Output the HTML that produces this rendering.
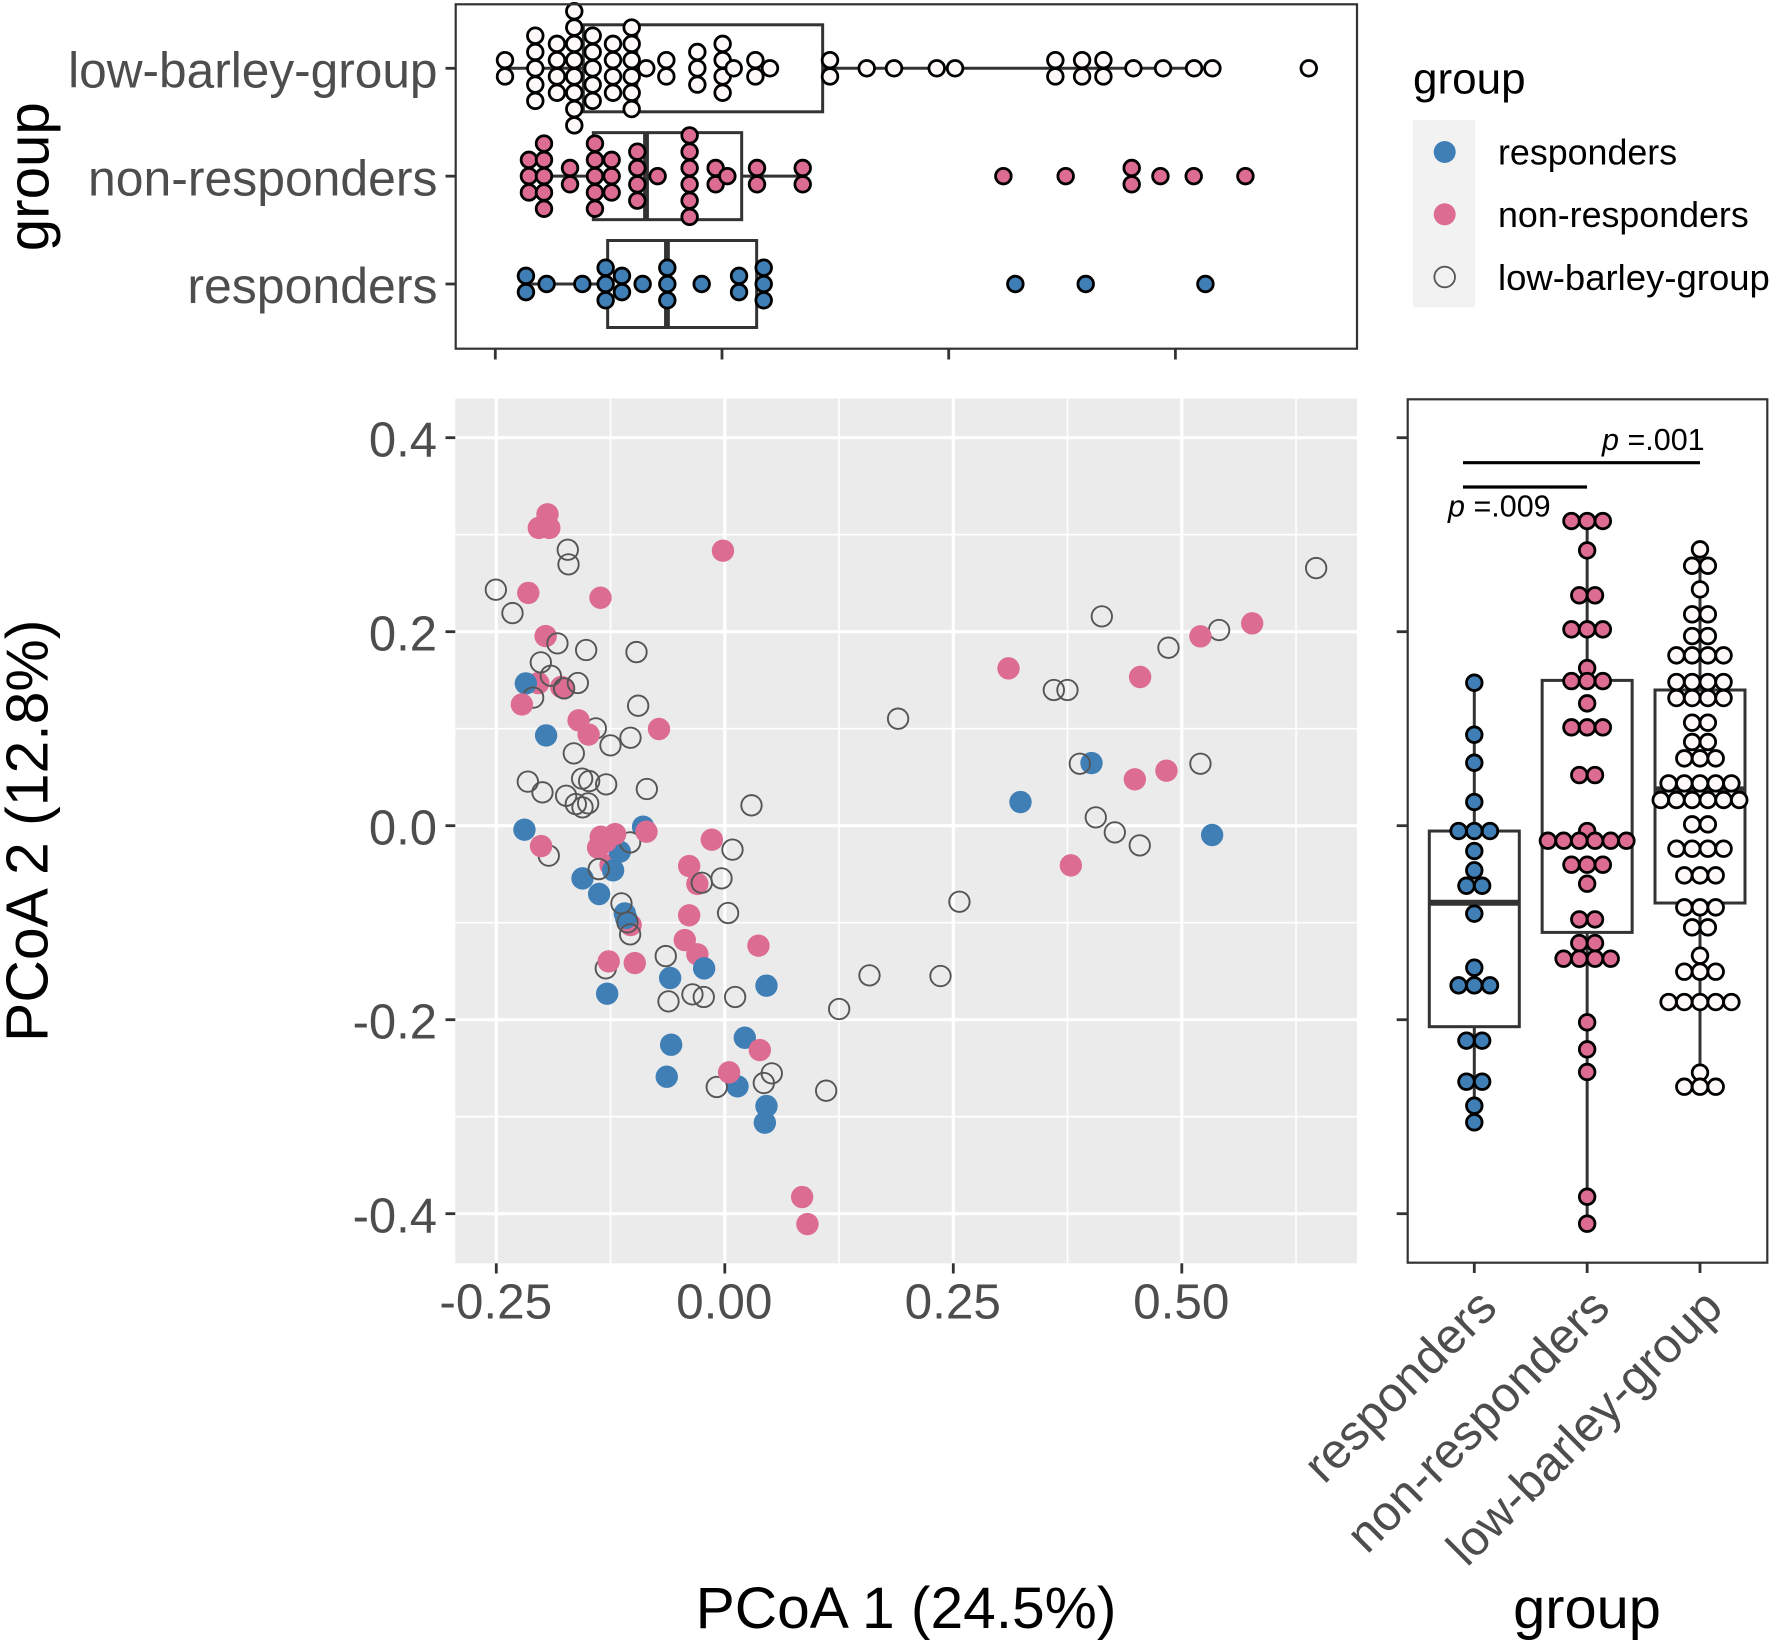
<!DOCTYPE html>
<html>
<head>
<meta charset="utf-8">
<title>PCoA plot with marginal dot-box plots</title>
<style>
html,body{margin:0;padding:0;background:#fff;}
svg{display:block;}
text{font-family:"Liberation Sans",Arial,sans-serif;}
</style>
</head>
<body>
<svg id="chart" xmlns="http://www.w3.org/2000/svg" width="1772" height="1645" viewBox="0 0 1772 1645">
  <g>
    <text x="1413" y="93.5" font-size="44" fill="#000">group</text>
    <rect x="1412.7" y="120" width="62.6" height="187.3" fill="#F2F2F2"/>
    <circle cx="1444.7" cy="152" r="11" fill="#3F7FB6"/>
    <circle cx="1444.7" cy="214.3" r="11" fill="#DD6C93"/>
    <circle cx="1444.7" cy="277" r="10.3" fill="none" stroke="#555" stroke-width="1.8"/>
    <text x="1498" y="164.5" font-size="35.8" fill="#000">responders</text>
    <text x="1498" y="226.8" font-size="35.8" fill="#000">non-responders</text>
    <text x="1498" y="290" font-size="36.5" fill="#000">low-barley-group</text>
  </g>
  <text transform="translate(48.3,176.7) rotate(-90)" text-anchor="middle" font-size="58.3" fill="#000">group</text>
  <text transform="translate(47.3,830.8) rotate(-90)" text-anchor="middle" font-size="58.9" fill="#000">PCoA 2 (12.8%)</text>
  <text x="906" y="1628" text-anchor="middle" font-size="58.7" fill="#000">PCoA 1 (24.5%)</text>
  <text x="1587" y="1628" text-anchor="middle" font-size="57.8" fill="#000">group</text>
  <g id="mainLayer"></g>
  <g id="topLayer"></g>
  <g id="rightLayer"></g>
</svg>
<script>
/* ---------- axis tick values ---------- */
var xMajorTicks = [-0.25, 0, 0.25, 0.5];
var xMajorTickLabels = ["-0.25", "0.00", "0.25", "0.50"];
var xMinorGrid = [-0.125, 0.125, 0.375, 0.625];
var yMajorTicks = [0.4, 0.2, 0, -0.2, -0.4];
var yMajorTickLabels = ["0.4", "0.2", "0.0", "-0.2", "-0.4"];
var yMinorGrid = [0.3, 0.1, -0.1, -0.3];
var groupNames = ["responders", "non-responders", "low-barley-group"];

/* ---------- scatter data ---------- */
var nonRespondersBackX = [-0.194,-0.2035,-0.192,-0.002,-0.215,-0.136,-0.196,-0.204,-0.179,-0.176,-0.125,-0.039,-0.03,-0.0438,-0.03,-0.1386,-0.103,0.4544,0.3104,-0.1058];
var nonRespondersBackY = [0.321,0.307,0.307,0.2835,0.24,0.235,0.1955,0.147,0.143,0.142,-0.0405,-0.0416,-0.06,-0.1179,-0.1326,-0.0227,-0.1024,0.1533,0.1622,-0.0997];
var respondersX = [-0.2177,-0.1955,-0.2192,-0.0894,-0.1149,-0.1222,-0.1557,-0.1375,-0.1094,-0.108,-0.0226,-0.0598,0.0456,-0.1287,0.0219,-0.0587,-0.0635,0.0139,0.0456,0.0438,0.4012,0.3235,0.5332];
var respondersY = [0.1467,0.0931,-0.0041,-0.001,-0.0268,-0.046,-0.0543,-0.0704,-0.0904,-0.095,-0.1471,-0.157,-0.1649,-0.1732,-0.2186,-0.2258,-0.2588,-0.2687,-0.289,-0.3062,0.0646,0.0244,-0.0096];
var lowBarleyX = [-0.1718,-0.171,-0.2505,-0.2323,-0.1831,-0.1517,-0.0966,-0.2013,-0.1904,-0.1608,-0.1758,-0.2097,-0.0948,-0.1411,-0.1032,-0.1251,-0.1652,-0.2155,-0.1995,-0.1561,-0.1484,-0.1298,-0.0853,-0.1736,-0.163,-0.1495,-0.1557,0.0292,0.1896,-0.1926,-0.1036,0.0084,-0.1379,-0.0252,-0.0036,-0.1131,-0.1065,-0.1036,0.0036,0.2567,-0.0646,-0.1302,0.1583,0.236,-0.0354,-0.023,-0.0616,0.0113,0.1251,0.0514,0.0427,-0.0088,0.1109,0.647,0.4125,0.5408,0.4854,0.36,0.3749,0.3884,0.5204,0.4059,0.4267,0.454];
var lowBarleyY = [0.2845,0.2694,0.2433,0.2192,0.188,0.1811,0.179,0.1684,0.1546,0.1471,0.1416,0.132,0.1237,0.1003,0.0907,0.0828,0.0746,0.0454,0.0344,0.0485,0.046,0.0426,0.0378,0.0309,0.0223,0.023,0.0189,0.021,0.1103,-0.0309,-0.0172,-0.0247,-0.0447,-0.0588,-0.0543,-0.0801,-0.0997,-0.112,-0.09,-0.0784,-0.1344,-0.1471,-0.1543,-0.155,-0.1739,-0.1766,-0.1811,-0.1766,-0.189,-0.2553,-0.2653,-0.2694,-0.2732,0.2656,0.2158,0.2017,0.1835,0.1399,0.1399,0.0639,0.0639,0.0086,-0.0069,-0.0203];
var nonRespondersFrontX = [-0.222,-0.16,-0.149,-0.072,-0.201,-0.12,-0.0857,-0.1357,-0.13,-0.0142,0.0368,-0.127,-0.0985,-0.039,0.0383,0.0047,0.0846,0.0904,0.5204,0.577,0.4486,0.4832,0.3786];
var nonRespondersFrontY = [0.125,0.1086,0.094,0.0997,-0.021,-0.0086,-0.0062,-0.0113,-0.016,-0.0144,-0.1237,-0.1399,-0.1416,-0.0924,-0.2313,-0.2543,-0.3828,-0.4107,0.1952,0.2086,0.0478,0.0567,-0.0409];

/* ---------- top dot plot: bin value and stack count ---------- */
var topLowBarleyValues = [-0.2393,-0.2059,-0.182,-0.1629,-0.1426,-0.1202,-0.0996,-0.0835,-0.0614,-0.0272,0.0007,0.0129,0.0368,0.0529,0.1191,0.1596,0.1897,0.2368,0.257,0.3676,0.3971,0.4206,0.4537,0.4864,0.5206,0.5408,0.6471];
var topLowBarleyCounts = [2,5,4,8,5,4,6,1,2,3,4,1,2,1,2,1,1,1,1,2,2,2,1,1,1,1,1];
var topNonRespValues = [-0.2129,-0.1963,-0.1676,-0.1401,-0.1217,-0.0934,-0.071,-0.0357,-0.007,0.0059,0.0386,0.089,0.3103,0.379,0.4518,0.4835,0.5202,0.5772];
var topNonRespCounts = [3,5,2,5,3,4,1,6,2,1,2,2,1,1,2,1,1,1];
var topRespValues = [-0.2162,-0.1934,-0.154,-0.1283,-0.1103,-0.0875,-0.0603,-0.0224,0.0188,0.046,0.3235,0.4011,0.5331];
var topRespCounts = [2,1,1,3,2,1,3,1,2,3,1,1,1];

/* top box stats: low whisker, q1, median, q3, high whisker */
var topLowBarleyBox = [-0.2393,-0.1529,-0.0955,0.111,0.5408];
var topNonRespBox = [-0.2129,-0.1419,-0.0838,0.0217,0.089];
var topRespBox = [-0.2162,-0.1261,-0.0607,0.0382,0.046];

/* ---------- right dot plot: bin value and row count ---------- */
var rightRespValues = [0.1474,0.0938,0.0649,0.0244,-0.0055,-0.0261,-0.046,-0.0619,-0.0907,-0.1464,-0.1646,-0.2216,-0.2639,-0.2887,-0.3058];
var rightRespCounts = [1,1,1,1,3,1,1,2,1,1,3,2,2,1,1];
var rightNonRespValues = [0.3141,0.2838,0.2375,0.2024,0.1625,0.1491,0.1261,0.1014,0.0522,-0.0055,-0.0155,-0.0402,-0.0598,-0.0966,-0.121,-0.1371,-0.2027,-0.2306,-0.2539,-0.3825,-0.4103];
var rightNonRespCounts = [3,1,2,3,1,3,1,3,2,1,6,3,1,2,2,4,1,1,1,1,1];
var rightLowBarleyValues = [0.2849,0.268,0.2436,0.2179,0.1955,0.1756,0.1481,0.1316,0.1062,0.0863,0.0694,0.0436,0.0265,0.0014,-0.0237,-0.0512,-0.0842,-0.1048,-0.134,-0.1505,-0.1818,-0.2546,-0.2691];
var rightLowBarleyCounts = [1,2,1,2,2,4,4,4,2,2,3,5,6,2,4,3,3,2,1,3,5,1,3];

var rightRespBox = [-0.3058,-0.2072,-0.0794,-0.0055,0.1474];
var rightNonRespBox = [-0.4103,-0.11,-0.0155,0.1498,0.3141];
var rightLowBarleyBox = [-0.2691,-0.0797,0.0375,0.1399,0.2849];

/* ---------- axis functions ---------- */
function mainX(v){ return 724.8 + v * 914; }
function mainY(v){ return 825.7 - v * 970; }
function topX(v){ return 722 + v * 906.8; }
function topRow(i){ return 284 - i * 107.85; }
function rightCol(i){ return 1474.3 + i * 112.85; }

var BLUE = "#3F7FB6", PINK = "#DD6C93", CREAM = "#FDF9F8", DARK = "#333333", TXT = "#4D4D4D";
var NS = "http://www.w3.org/2000/svg";

function make(parent, tag, attrs, name) {
  var el = document.createElementNS(NS, tag);
  for (var k in attrs) { el.setAttribute(k, attrs[k]); }
  
  
  parent.appendChild(el);
  return el;
}
function line(parent, x1, y1, x2, y2, stroke, w, name) {
  return make(parent, "line", {x1:x1, y1:y1, x2:x2, y2:y2, stroke:stroke, "stroke-width":w}, name);
}
function label(parent, x, y, str, size, fill, anchor, name) {
  var t = make(parent, "text", {x:x, y:y, "font-size":size, fill:fill, "text-anchor":anchor}, name);
  t.textContent = str;
  return t;
}

/* ---------- main scatter panel ---------- */
var main = document.getElementById("mainLayer");
make(main, "rect", {x:455.3, y:398.5, width:901.7, height:864.8, fill:"#EBEBEB"}, "scatter-panel-background");
yMinorGrid.forEach(function(v){ line(main, 455.3, mainY(v), 1357, mainY(v), "#fff", 1.6, "minor-gridline-y"); });
xMinorGrid.forEach(function(v){ line(main, mainX(v), 398.5, mainX(v), 1263.3, "#fff", 1.6, "minor-gridline-x"); });
yMajorTicks.forEach(function(v){ line(main, 455.3, mainY(v), 1357, mainY(v), "#fff", 3.2, "major-gridline-y"); });
xMajorTicks.forEach(function(v){ line(main, mainX(v), 398.5, mainX(v), 1263.3, "#fff", 3.2, "major-gridline-x"); });

function scatter(xs, ys, fill, stroke, name) {
  xs.forEach(function(x, i){
    var r = stroke ? 10.2 : 11.2;
    make(main, "circle", {cx:mainX(x), cy:mainY(ys[i]), r:r, fill:fill, stroke:stroke || "none", "stroke-width":stroke ? 1.9 : 0}, name);
  });
}
scatter(nonRespondersBackX, nonRespondersBackY, PINK, null, "scatter-point-non-responders");
scatter(respondersX, respondersY, BLUE, null, "scatter-point-responders");
scatter(lowBarleyX, lowBarleyY, "none", "#555", "scatter-point-low-barley-group");
scatter(nonRespondersFrontX, nonRespondersFrontY, PINK, null, "scatter-point-non-responders");

yMajorTicks.forEach(function(v, i){
  line(main, 445.5, mainY(v), 455.3, mainY(v), DARK, 2.8, "main-y-tick");
  label(main, 437, mainY(v) + 19, yMajorTickLabels[i], 49, TXT, "end", "main-y-tick-label");
});
xMajorTicks.forEach(function(v, i){
  line(main, mainX(v), 1263.3, mainX(v), 1273.5, DARK, 2.8, "main-x-tick");
  label(main, mainX(v) - 0.5, 1318.5, xMajorTickLabels[i], 49.5, TXT, "middle", "main-x-tick-label");
});

/* ---------- shared dot drawing ---------- */
function dot(parent, cx, cy, fill, name) {
  make(parent, "circle", {cx:cx, cy:cy, r:7.8, fill:fill, stroke:"#000", "stroke-width":2.8}, name);
}

/* ---------- top panel ---------- */
var topG = document.getElementById("topLayer");
function topBox(stats, row, name) {
  var cy = topRow(row), h = 43.5;
  line(topG, topX(stats[0]), cy, topX(stats[1]), cy, DARK, 3, name + "-whisker-low");
  line(topG, topX(stats[3]), cy, topX(stats[4]), cy, DARK, 3, name + "-whisker-high");
  make(topG, "rect", {x:topX(stats[1]), y:cy - h, width:topX(stats[3]) - topX(stats[1]), height:2 * h, fill:"none", stroke:DARK, "stroke-width":3}, name + "-box");
  line(topG, topX(stats[2]), cy - h, topX(stats[2]), cy + h, DARK, 5.8, name + "-median");
}
function topDots(values, counts, row, fill, name) {
  var cy = topRow(row), step = 16.3;
  values.forEach(function(v, i){
    for (var k = 0; k < counts[i]; k++) {
      dot(topG, topX(v), cy + (k - (counts[i] - 1) / 2) * step, fill, name);
    }
  });
}
topBox(topRespBox, 0, "top-responders");
topBox(topNonRespBox, 1, "top-non-responders");
topBox(topLowBarleyBox, 2, "top-low-barley-group");
topDots(topRespValues, topRespCounts, 0, BLUE, "top-dot-responders");
topDots(topNonRespValues, topNonRespCounts, 1, PINK, "top-dot-non-responders");
topDots(topLowBarleyValues, topLowBarleyCounts, 2, CREAM, "top-dot-low-barley-group");
make(topG, "rect", {x:455.7, y:4.3, width:901.3, height:344.4, fill:"none", stroke:DARK, "stroke-width":2.2}, "top-panel-border");
var topLabelSizes = [50, 49.9, 49.6];
groupNames.forEach(function(n, i){
  line(topG, 445.5, topRow(i), 455.7, topRow(i), DARK, 2.8, "top-y-tick");
  label(topG, 437.5, topRow(i) + 19.2, n, topLabelSizes[i], TXT, "end", "top-y-tick-label");
});
xMajorTicks.forEach(function(v){ line(topG, topX(v), 348.7, topX(v), 359.5, DARK, 2.8, "top-x-tick"); });

/* ---------- right panel ---------- */
var rightG = document.getElementById("rightLayer");
function rightBox(stats, col, name) {
  var cx = rightCol(col), w = 45;
  line(rightG, cx, mainY(stats[0]), cx, mainY(stats[1]), DARK, 3, name + "-whisker-low");
  line(rightG, cx, mainY(stats[3]), cx, mainY(stats[4]), DARK, 3, name + "-whisker-high");
  make(rightG, "rect", {x:cx - w, y:mainY(stats[3]), width:2 * w, height:mainY(stats[1]) - mainY(stats[3]), fill:"none", stroke:DARK, "stroke-width":3}, name + "-box");
  line(rightG, cx - w, mainY(stats[2]), cx + w, mainY(stats[2]), DARK, 6, name + "-median");
}
function rightDots(values, counts, col, fill, name) {
  var cx = rightCol(col), step = 15.7;
  values.forEach(function(v, i){
    for (var k = 0; k < counts[i]; k++) {
      dot(rightG, cx + (k - (counts[i] - 1) / 2) * step, mainY(v), fill, name);
    }
  });
}
rightBox(rightRespBox, 0, "right-responders");
rightBox(rightNonRespBox, 1, "right-non-responders");
rightBox(rightLowBarleyBox, 2, "right-low-barley-group");
rightDots(rightRespValues, rightRespCounts, 0, BLUE, "right-dot-responders");
rightDots(rightNonRespValues, rightNonRespCounts, 1, PINK, "right-dot-non-responders");
rightDots(rightLowBarleyValues, rightLowBarleyCounts, 2, CREAM, "right-dot-low-barley-group");
make(rightG, "rect", {x:1407.7, y:399.3, width:359.6, height:863.4, fill:"none", stroke:DARK, "stroke-width":2.2}, "right-panel-border");
yMajorTicks.forEach(function(v){ line(rightG, 1396.7, mainY(v), 1407.7, mainY(v), DARK, 2.8, "right-y-tick"); });
var rightLabelSizes = [49.5, 49.5, 49];
groupNames.forEach(function(n, i){
  var cx = rightCol(i);
  line(rightG, cx, 1262.7, cx, 1273, DARK, 2.8, "right-x-tick");
  var t = label(rightG, 0, 0, n, rightLabelSizes[i], TXT, "end", "right-x-tick-label");
  t.setAttribute("transform", "translate(" + (cx + 25) + ",1310) rotate(-45)");
});

/* significance annotations */
line(rightG, 1463, 462.7, 1700, 462.7, "#000", 3.2, "significance-bar-low-barley");
line(rightG, 1463, 487, 1587, 487, "#000", 3.2, "significance-bar-non-responders");
var p1 = make(rightG, "text", {x:1602, y:450, "font-size":30.5, fill:"#000"}, "p-value-001");
p1.innerHTML = '<tspan font-style="italic">p</tspan> =.001';
var p2 = make(rightG, "text", {x:1448, y:516.7, "font-size":30.5, fill:"#000"}, "p-value-009");
p2.innerHTML = '<tspan font-style="italic">p</tspan> =.009';
</script>
</body>
</html>
